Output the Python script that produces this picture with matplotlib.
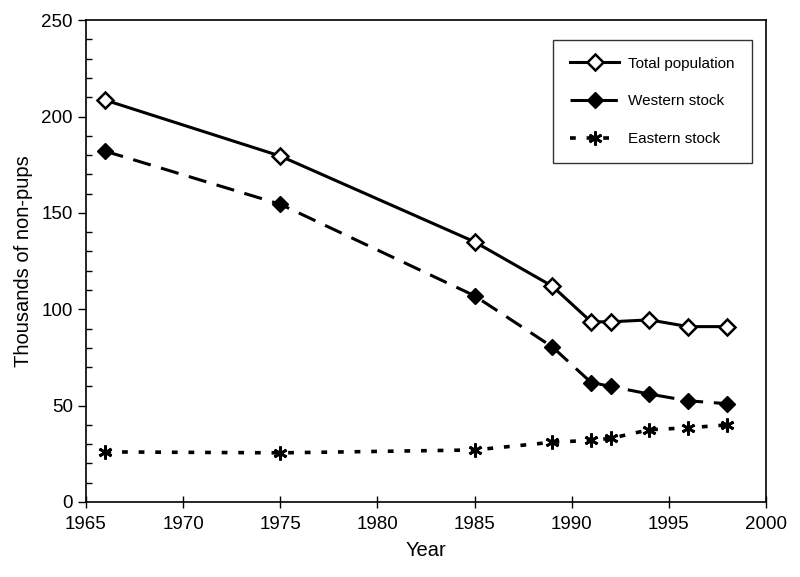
import matplotlib
matplotlib.use("Agg")
import matplotlib.pyplot as plt
from matplotlib.ticker import MultipleLocator

plt.rcParams['font.family'] = ['Liberation Sans', 'DejaVu Sans']

# survey years and thousands of non-pups
years = [1966, 1975, 1985, 1989, 1991, 1992, 1994, 1996, 1998]
total_population = [208.5, 179.5, 135, 112, 93.5, 93.5, 94.5, 91, 91]
western_stock = [182, 154.5, 107, 80.5, 62, 60, 56, 52.5, 51]
eastern_stock = [26, 25.5, 27, 31, 32, 33, 37.5, 38.5, 40]

fig = plt.figure(figsize=(8, 5.77), dpi=100)
ax = fig.add_axes([0.1075, 0.130, 0.85, 0.835])

ax.plot(years, total_population, linestyle='-', color='k', linewidth=2.2,
        marker='D', markersize=8, markerfacecolor='white', markeredgecolor='k',
        markeredgewidth=1.8, label='Total population')
ax.plot(years, western_stock, linestyle=(0, (6, 3.5)), color='k', linewidth=2.2,
        marker='D', markersize=8, markerfacecolor='k', markeredgecolor='k',
        label='Western stock')
ax.plot(years, eastern_stock, linestyle=(0, (1.6, 3)), color='k', linewidth=2.6,
        marker=(6, 2, 0), markersize=10, markeredgewidth=2.0, label='Eastern stock')

ax.set_xlim(1965, 2000)
ax.set_ylim(0, 250)
ax.xaxis.set_major_locator(MultipleLocator(5))
ax.yaxis.set_major_locator(MultipleLocator(50))
ax.yaxis.set_minor_locator(MultipleLocator(10))
ax.tick_params(axis='x', which='major', direction='inout', length=8, width=1, labelsize=13.5, pad=6)
ax.tick_params(axis='y', which='major', direction='out', length=6, width=1, labelsize=13.5)
ax.tick_params(axis='y', which='minor', direction='in', length=4, width=1)
for spine in ax.spines.values():
    spine.set_linewidth(1.2)

ax.set_xlabel('Year', fontsize=14.5, labelpad=6)
ax.set_ylabel('Thousands of non-pups', fontsize=14.5, labelpad=6)

leg = ax.legend(loc='upper right', bbox_to_anchor=(0.99, 0.975), fontsize=11,
                frameon=True, fancybox=False, edgecolor='k', labelspacing=1.55,
                handlelength=3.2, borderpad=1.1, handletextpad=0.6)
leg.get_frame().set_linewidth(1.0)

plt.savefig('out.png', dpi=100)
